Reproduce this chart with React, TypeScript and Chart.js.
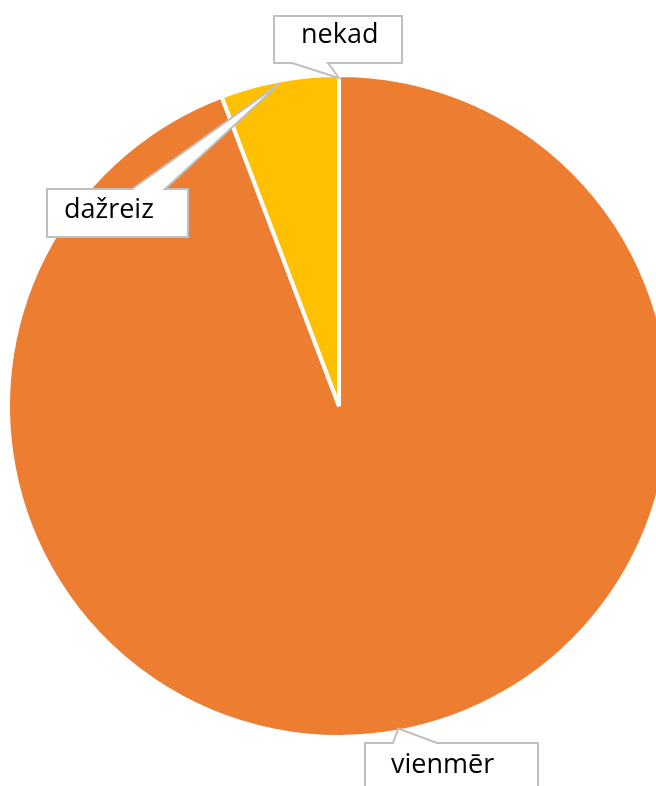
import React, { useEffect, useRef } from "react";
import { Chart, registerables } from "chart.js";

Chart.register(...registerables);

const categories = ["vienmēr", "dažreiz", "nekad"];
const values = [49, 3, 0];
const colors = ["#ED7D31", "#FFC000", "#A5A5A5"];

// callout boxes (layout): box rect, side of pointer, pointer base x-range, text origin
const callouts = [
  { box: [365, 743, 538, 800], side: "top", base: [393, 437], text: [391, 773] },
  { box: [47, 189, 188, 237], side: "top", base: [132, 165], text: [64, 218] },
  { box: [274, 16, 402, 63], side: "bottom", base: [292, 328], text: [301, 43] },
];

const VISIBLE_R = 329;

const calloutPlugin = {
  id: "callouts",
  afterDraw(chart: any) {
    const ctx = chart.ctx as CanvasRenderingContext2D;
    const meta = chart.getDatasetMeta(0);
    meta.data.forEach((arc: any, i: number) => {
      const c = callouts[i];
      if (!c) return;
      const { x, y, startAngle, endAngle } = arc.getProps(["x", "y", "startAngle", "endAngle"], true);
      const mid = (startAngle + endAngle) / 2;
      const tr = VISIBLE_R - 1;
      const tx = x + tr * Math.cos(mid);
      const ty = y + tr * Math.sin(mid);
      const [l, t, r, b] = c.box;
      const [b1, b2] = c.base;
      ctx.save();
      ctx.beginPath();
      if (c.side === "top") {
        ctx.moveTo(l, t);
        ctx.lineTo(b1, t);
        ctx.lineTo(tx, ty);
        ctx.lineTo(b2, t);
        ctx.lineTo(r, t);
        ctx.lineTo(r, b);
        ctx.lineTo(l, b);
      } else {
        ctx.moveTo(l, t);
        ctx.lineTo(r, t);
        ctx.lineTo(r, b);
        ctx.lineTo(b2, b);
        ctx.lineTo(tx, ty);
        ctx.lineTo(b1, b);
        ctx.lineTo(l, b);
      }
      ctx.closePath();
      ctx.fillStyle = "#ffffff";
      ctx.fill();
      ctx.lineWidth = 2;
      ctx.strokeStyle = "#bfbfbf";
      ctx.lineJoin = "miter";
      ctx.stroke();
      ctx.fillStyle = "#000000";
      ctx.font = "27px 'Open Sans'";
      ctx.textBaseline = "alphabetic";
      ctx.textAlign = "left";
      ctx.fillText(categories[i], c.text[0], c.text[1]);
      ctx.restore();
    });
  },
};

export default function App() {
  const ref = useRef<HTMLCanvasElement>(null);
  useEffect(() => {
    const chart = new Chart(ref.current!, {
      type: "pie",
      data: {
        labels: categories,
        datasets: [
          {
            data: values,
            backgroundColor: colors,
            borderColor: "#ffffff",
            borderWidth: 4,
          },
        ],
      },
      options: {
        responsive: false,
        animation: false,
        radius: VISIBLE_R + 2,
        layout: { padding: { top: 26, bottom: 0, left: 0, right: 0 } },
        plugins: {
          legend: { display: false },
          tooltip: { enabled: false },
          title: { display: false },
        },
      } as any,
      plugins: [calloutPlugin],
    });
    return () => chart.destroy();
  }, []);
  return (
    <div
      style={{
        position: "fixed",
        left: 0,
        top: 0,
        width: 656,
        height: 786,
        overflow: "hidden",
        background: "#ffffff",
      }}
    >
      <canvas ref={ref} width={678} height={786} style={{ display: "block" }} />
    </div>
  );
}
